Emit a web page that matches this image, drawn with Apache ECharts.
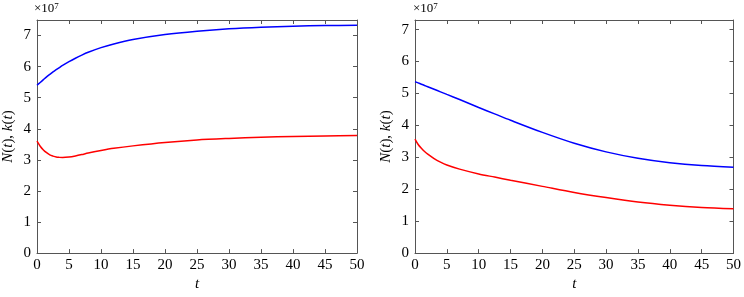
<!DOCTYPE html>
<html>
<head>
<meta charset="utf-8">
<script src="https://cdn.jsdelivr.net/npm/echarts@6/dist/echarts.min.js"></script>
<style>
  html, body { margin: 0; padding: 0; background: #fff; }
  #chart { width: 744px; height: 297px; }
</style>
</head>
<body>
<div id="chart"></div>
<script>
// values in units of 1e7
const tLeft = [0, 0.5, 1, 1.5, 2, 2.5, 3, 3.5, 4, 5, 6, 7, 8, 10, 12, 15, 20, 25, 30, 35, 40, 45, 50]
const nLeft = [5.40, 5.49, 5.58, 5.67, 5.75, 5.83, 5.90, 5.97, 6.04, 6.16, 6.27, 6.37, 6.46, 6.61, 6.73, 6.87, 7.03, 7.14, 7.22, 7.27, 7.30, 7.32, 7.33]
const kLeft = [3.60, 3.44, 3.32, 3.23, 3.16, 3.12, 3.09, 3.08, 3.075, 3.09, 3.125, 3.17, 3.22, 3.30, 3.37, 3.45, 3.56, 3.64, 3.69, 3.73, 3.75, 3.77, 3.78]

const tRight = [0, 0.5, 1, 1.5, 2, 3, 4, 5, 7, 10, 12.5, 15, 20, 25, 30, 35, 40, 45, 50]
const nRight = [5.37, 5.33, 5.29, 5.25, 5.21, 5.13, 5.05, 4.97, 4.81, 4.56, 4.36, 4.16, 3.78, 3.44, 3.17, 2.97, 2.83, 2.74, 2.69]
const kRight = [3.57, 3.40, 3.28, 3.18, 3.10, 2.96, 2.85, 2.76, 2.63, 2.48, 2.38, 2.28, 2.09, 1.90, 1.74, 1.60, 1.50, 1.43, 1.39]

const xTicks = { min: 0, max: 50, interval: 5 }
const yMaxLeft = 7.5
const yMaxRight = 7.3

const serif = 'Liberation Serif'
const frame = '#555'

function pairs(ts, vs) {
  return ts.map((t, i) => [t, vs[i]])
}

const lineStyle = { show: true, onZero: false, lineStyle: { color: frame, width: 1 } }
const tickStyle = { show: true, inside: true, length: 4, lineStyle: { color: frame } }

function xAxes(gridIndex) {
  return [
    {
      type: 'value', gridIndex, position: 'bottom', ...xTicks,
      name: 't', nameLocation: 'middle', nameGap: 22,
      nameTextStyle: { fontFamily: serif, fontStyle: 'italic', fontSize: 15, color: '#000' },
      axisLine: lineStyle,
      axisTick: tickStyle,
      axisLabel: { color: '#000', fontFamily: serif, fontSize: 15, margin: 4 },
      splitLine: { show: false },
    },
    {
      type: 'value', gridIndex, position: 'top', ...xTicks,
      axisLine: lineStyle,
      axisTick: tickStyle,
      axisLabel: { show: false },
      splitLine: { show: false },
    },
  ]
}

function yAxes(gridIndex, max) {
  const base = { type: 'value', gridIndex, min: 0, max, interval: 1 }
  return [
    {
      ...base, position: 'left',
      name: '{i|N}({i|t}), {i|k}({i|t})', nameLocation: 'middle', nameGap: 21, nameRotate: 90,
      nameTextStyle: {
        fontFamily: serif, fontSize: 15, color: '#000',
        rich: { i: { fontFamily: serif, fontStyle: 'italic', fontSize: 15, color: '#000' } },
      },
      axisLine: lineStyle,
      axisTick: tickStyle,
      axisLabel: {
        color: '#000', fontFamily: serif, fontSize: 15, margin: 6,
        formatter: v => (Number.isInteger(v) ? String(v) : ''),
      },
      splitLine: { show: false },
    },
    {
      ...base, position: 'right',
      axisLine: lineStyle,
      axisTick: tickStyle,
      axisLabel: { show: false },
      splitLine: { show: false },
    },
  ]
}

function line(gridIdx, data, color) {
  return {
    type: 'line',
    xAxisIndex: gridIdx * 2,
    yAxisIndex: gridIdx * 2,
    data,
    smooth: 0.3,
    showSymbol: false,
    lineStyle: { color, width: 1.5 },
    itemStyle: { color },
  }
}

function exponent(left) {
  return {
    type: 'text', left, top: 2,
    style: {
      text: '{a|×10}{b|7}',
      fontFamily: serif,
      rich: {
        a: { fontFamily: serif, fontSize: 13, fill: '#000', verticalAlign: 'bottom' },
        b: { fontFamily: serif, fontSize: 9, fill: '#000', verticalAlign: 'top' },
      },
    },
  }
}

const chart = echarts.init(document.getElementById('chart'))
chart.setOption({
  animation: false,
  backgroundColor: '#fff',
  textStyle: { fontFamily: serif },
  grid: [
    { left: 35, top: 20, width: 322, height: 242 },
    { left: 415, top: 20, width: 320, height: 242 },
  ],
  xAxis: [...xAxes(0), ...xAxes(1)],
  yAxis: [...yAxes(0, yMaxLeft), ...yAxes(1, yMaxRight)],
  graphic: [exponent(34), exponent(413)],
  series: [
    line(0, pairs(tLeft, nLeft), '#0000ff'),
    line(0, pairs(tLeft, kLeft), '#ff0000'),
    line(1, pairs(tRight, nRight), '#0000ff'),
    line(1, pairs(tRight, kRight), '#ff0000'),
  ],
})
</script>
</body>
</html>
